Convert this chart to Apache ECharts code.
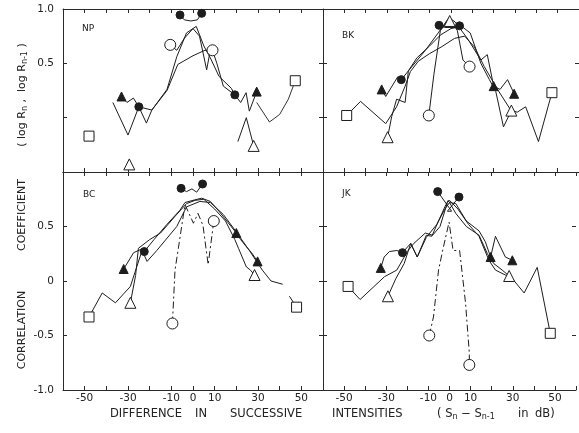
<!DOCTYPE html>
<html>
<head>
<meta charset="utf-8">
<script src="https://cdn.jsdelivr.net/npm/echarts@6/dist/echarts.min.js"></script>
<style>
  html, body { margin: 0; padding: 0; background: #fff; }
  #chart { width: 579px; height: 433px; }
</style>
</head>
<body>
<div id="chart"></div>
<script>
// ---- tick labels ----
const xTickLabels = [-50, -30, -10, 0, 10, 30, 50];
const upperYLabels = [1.0, 0.5];
const lowerYLabels = [0.5, 0, -0.5, -1.0];

// ---- NP ----  [dB difference, correlation]; null breaks a curve
const npTop = [[-6, 0.945], [-4, 0.90], [-1, 0.89], [2, 0.90], [4, 0.96]];
const npRing = [[-10.5, 0.67], [-7.5, 0.62], [-4, 0.73], [0, 0.82], [3, 0.75], [6.3, 0.44], [7.8, 0.60], [9, 0.62]];
const npLeftSolid = [[-33, 0.195], [-30.5, 0.14], [-27.5, 0.18], [-25, 0.10]];
const npRightSolid = [[19.3, 0.21], [22, 0.14], [24.5, 0.23], [26, 0.06], [29.4, 0.24]];
const npHollowTri = [[-29.4, -0.43], null, [20.7, -0.22], [24.6, 0.0], [28, -0.26]];
const npBox = [[-48, -0.17], [-45.5, -0.17], null, [29.4, 0.14], [35.3, -0.04], [40, 0.03], [44, 0.17], [47.2, 0.34]];
const npPlainA = [[-37, 0.14], [-30, -0.16], [-25, 0.10], [-21.5, -0.05], [-19, 0.07], [-12, 0.26], [-7.5, 0.56], [-3, 0.78], [1.5, 0.84], [5, 0.66], [8, 0.55], [12, 0.38], [17.7, 0.27], [19.3, 0.21]];
const npPlainB = [[-25, 0.10], [-19, 0.07], [-12, 0.25], [-7, 0.49], [0, 0.57], [5.5, 0.62], [9, 0.62], [11, 0.50], [14, 0.29], [19.3, 0.21]];

// ---- BK ----
const bkTop = [[-5.6, 0.85], [-3, 0.83], [0, 0.83], [2, 0.83], [4, 0.845]];
const bkPeakTri = [[-0.6, 0.89]];
const bkRing = [[-10.4, 0.02], [-8, 0.40], [-5, 0.80], [-2, 0.88], [1, 0.86], [3, 0.80], [5.6, 0.53], [8.7, 0.47]];
const bkLeftSolid = [[-32.5, 0.26], [-30.6, 0.195], [-25, 0.375], [-23.3, 0.35]];
const bkRightSolid = [[20, 0.29], [23, 0.26], [26.5, 0.35], [29.6, 0.22]];
const bkHollowTri = [[-29.7, -0.18], [-27.8, 0.01], [-25.5, 0.17], [-21.5, 0.14], [-20, 0.43], [-16, 0.55], [-10, 0.66], [-5, 0.76], [0, 0.82], [5, 0.84], [9, 0.78], [14, 0.50], [18, 0.35], [21, 0.24], [24.6, -0.085], [28.3, 0.065]];
const bkBox = [[-48.9, 0.02], [-42.4, 0.15], [-30.6, -0.055], [-25.5, 0.10], [-21.5, 0.29], [-19, 0.425], [-15.3, 0.52], [-10, 0.59], [-4.6, 0.65], [1.7, 0.73], [6.4, 0.75], [11, 0.65], [15.6, 0.47], [21.8, 0.26], [28, 0.07], [31, 0.05], [35, 0.10], [41, -0.22], [47.3, 0.23]];
const bkPlainA = [[-23.3, 0.35], [-20, 0.43], [-12, 0.62], [-6, 0.78], [-1, 0.92], [2, 0.88], [8, 0.72], [14, 0.53], [17, 0.58], [20, 0.29]];

// ---- BC ----
const bcTop = [[-5.5, 0.85], [-3, 0.82], [-0.5, 0.845], [1.7, 0.815], [4.4, 0.89]];
const bcRing = [[-9.5, -0.39], [-8.3, 0.10], [-3.7, 0.70], [0.2, 0.53], [2.3, 0.62], [4.6, 0.51], [7, 0.15], [9.6, 0.55]];
const bcLeftSolid = [[-32, 0.11], [-27.4, 0.26], [-24, 0.29], [-22.5, 0.27]];
const bcRightSolid = [[20, 0.44], [22, 0.38], [24.6, 0.315], [27, 0.26], [29.8, 0.18]];
const bcHollowTri = [[-28.9, -0.20], [-26.5, 0.05], [-25.2, 0.30], [-20, 0.38], [-15, 0.44], [-8, 0.60], [-3, 0.71], [1, 0.74], [5, 0.75], [10, 0.66], [15, 0.55], [19.3, 0.38], [21, 0.30], [24.6, 0.13], [26.5, 0.10], [28.4, 0.055]];
const bcBox = [[-48, -0.33], [-41.9, -0.11], [-35.8, -0.20], [-28.9, -0.05], [-23.5, 0.28], [-21.2, 0.18], [-16.7, 0.28], [-7.5, 0.50], [-3, 0.68], [3.2, 0.73], [8, 0.72], [14, 0.61], [20, 0.45], [26, 0.28], [32, 0.10], [36, 0.00], [41.4, -0.03], null, [44.5, -0.14], [47.8, -0.24]];
const bcPlainA = [[-22.5, 0.27], [-18, 0.38], [-12, 0.52], [-6, 0.65], [-3.7, 0.72], [0, 0.74], [4, 0.76], [8, 0.73], [12, 0.64], [16, 0.54], [20, 0.44]];

// ---- JK ----
const jkTop = [[-5.6, 0.82], [1, 0.64], [-1, 0.64], [4.5, 0.77]];
const jkRing = [[-9.6, -0.50], [-7.6, -0.33], [-5.2, 0.10], [-2.9, 0.31], [-0.2, 0.54], [1.7, 0.28], [4.8, 0.28], [7.6, -0.20], [9.4, -0.66], [9.4, -0.77]];
const jkLeftSolid = [[-32.6, 0.12], [-31, 0.22], [-28.5, 0.27], [-25, 0.28], [-22.3, 0.26]];
const jkRightSolid = [[19.5, 0.22], [21.8, 0.41], [26.5, 0.22], [29.8, 0.19]];
const jkHollowTri = [[-29.2, -0.14], [-25.5, 0.02], [-21.5, 0.16], [-18.4, 0.345], [-15.3, 0.22], [-11, 0.42], [-8.4, 0.41], [-5, 0.56], [-2.2, 0.68], [-0.6, 0.74], [3, 0.62], [8, 0.50], [14, 0.42], [18, 0.25], [21, 0.16], [25, 0.10], [28.3, 0.046]];
const jkBox = [[-48.1, -0.05], [-42.4, -0.17], [-30.8, 0.04], [-25, 0.10], [-20, 0.27], [-16.9, 0.345], [-11.5, 0.44], [-8, 0.42], [-4.5, 0.50], [-1, 0.72], [0, 0.74], [4, 0.66], [9, 0.52], [14, 0.41], [18.7, 0.19], [21.8, 0.10], [26.5, 0.055], [29, 0.04], [35.4, -0.11], [41.6, 0.125], [47.8, -0.48]];
const jkPlainA = [[-22.3, 0.26], [-18.4, 0.345], [-15.3, 0.22], [-11, 0.40], [-6, 0.52], [-2.2, 0.66], [0, 0.72], [3, 0.71], [8, 0.55], [14, 0.46], [17, 0.36], [19.5, 0.22]];

// ---- panel names ----
const panelNames = ['NP', 'BK', 'BC', 'JK'];

// ---- drawing ----
const INK = '#1d1d1d';
const FONT = 'DejaVu Sans';
const MARKS = {
  dot:       { symbol: 'circle',   size: 8,  fill: INK },
  ring:      { symbol: 'circle',   size: 11, fill: '#fff' },
  solidTri:  { symbol: 'triangle', size: 9,  fill: INK },
  hollowTri: { symbol: 'triangle', size: 11, fill: '#fff' },
  box:       { symbol: 'rect',     size: 10, fill: '#fff' }
};

const panels = [
  { curves: [
      { pts: npTop, start: 'dot', end: 'dot' },
      { pts: npRing, start: 'ring', end: 'ring' },
      { pts: npPlainA }, { pts: npPlainB },
      { pts: npLeftSolid, start: 'solidTri', end: 'dot' },
      { pts: npRightSolid, start: 'dot', end: 'solidTri' },
      { pts: npHollowTri, start: 'hollowTri', end: 'hollowTri' },
      { pts: npBox, start: 'box', end: 'box', thin: true }
  ] },
  { curves: [
      { pts: bkTop, start: 'dot', end: 'dot' },
      { pts: bkPeakTri, start: 'hollowTri' },
      { pts: bkRing, start: 'ring', end: 'ring' },
      { pts: bkPlainA },
      { pts: bkLeftSolid, start: 'solidTri', end: 'dot' },
      { pts: bkRightSolid, start: 'solidTri', end: 'solidTri' },
      { pts: bkHollowTri, start: 'hollowTri', end: 'hollowTri' },
      { pts: bkBox, start: 'box', end: 'box' }
  ] },
  { curves: [
      { pts: bcTop, start: 'dot', end: 'dot' },
      { pts: bcRing, start: 'ring', end: 'ring', dashed: true },
      { pts: bcPlainA },
      { pts: bcLeftSolid, start: 'solidTri', end: 'dot' },
      { pts: bcRightSolid, start: 'solidTri', end: 'solidTri' },
      { pts: bcHollowTri, start: 'hollowTri', end: 'hollowTri' },
      { pts: bcBox, start: 'box', end: 'box' }
  ] },
  { curves: [
      { pts: jkTop, start: 'dot', end: 'dot' },
      { pts: jkRing, start: 'ring', end: 'ring', dashed: true },
      { pts: jkPlainA },
      { pts: jkLeftSolid, start: 'solidTri', end: 'dot' },
      { pts: jkRightSolid, start: 'solidTri', end: 'solidTri' },
      { pts: jkHollowTri, start: 'hollowTri', end: 'hollowTri' },
      { pts: jkBox, start: 'box', end: 'box' }
  ] }
];

// grid geometry: columns [left, width], rows [top, height, yMin]
const cols = [[63, 260], [323, 259]];
const rows = [[9, 163, -0.5], [172, 218, -1.0]];

const grids = [], xAxes = [], yAxes = [], series = [];
const axisLineStyle = { color: '#2a2a2a', width: 1 };

function fmtY(v) { return v === 0 ? '0' : v.toFixed(1); }

panels.forEach((panel, gi) => {
  const col = cols[gi % 2], row = rows[Math.floor(gi / 2)];
  const isLeft = gi % 2 === 0, isLower = gi >= 2;
  grids.push({ left: col[0], width: col[1], top: row[0], height: row[1] });

  const xb = xAxes.length;
  xAxes.push({
    gridIndex: gi, type: 'value', position: 'bottom', min: -60, max: 60, interval: 10,
    axisLine: { show: true, onZero: false, lineStyle: axisLineStyle },
    axisTick: { show: true, inside: true, length: 4, lineStyle: axisLineStyle },
    axisLabel: {
      show: isLower, margin: 3, color: '#222', fontFamily: FONT, fontSize: 10.5,
      formatter: v => (xTickLabels.indexOf(v) >= 0 ? String(v) : '')
    },
    splitLine: { show: false }
  });
  xAxes.push({
    gridIndex: gi, type: 'value', position: 'top', min: -60, max: 60, interval: 10,
    axisLine: { show: true, onZero: false, lineStyle: axisLineStyle },
    axisTick: { show: true, inside: true, length: 4, lineStyle: axisLineStyle },
    axisLabel: { show: false }, splitLine: { show: false }
  });

  const yl = yAxes.length;
  const labelSet = isLower ? lowerYLabels : upperYLabels;
  yAxes.push({
    gridIndex: gi, type: 'value', position: 'left', min: row[2], max: 1.0, interval: 0.5,
    axisLine: { show: true, onZero: false, lineStyle: axisLineStyle },
    axisTick: { show: true, inside: true, length: 4, lineStyle: axisLineStyle },
    axisLabel: {
      show: isLeft, margin: 9, color: '#222', fontFamily: FONT, fontSize: 10.5,
      formatter: v => (labelSet.indexOf(v) >= 0 ? fmtY(v) : '')
    },
    splitLine: { show: false }
  });
  yAxes.push({
    gridIndex: gi, type: 'value', position: 'right', min: row[2], max: 1.0, interval: 0.5,
    axisLine: { show: false, onZero: false },
    axisTick: { show: true, inside: true, length: 4, lineStyle: axisLineStyle },
    axisLabel: { show: false }, splitLine: { show: false }
  });

  const ends = {};
  panel.curves.forEach(c => {
    // split on null into separate segments
    const segs = [[]];
    c.pts.forEach(p => { if (p === null) segs.push([]); else segs[segs.length - 1].push(p); });
    segs.forEach(seg => {
      if (seg.length < 2) return;
      series.push({
        type: 'line', xAxisIndex: xb, yAxisIndex: yl, data: seg,
        symbol: 'none', silent: true, animation: false, z: 2,
        lineStyle: { color: INK, width: c.thin ? 0.9 : 1, type: c.dashed ? [7, 3, 2, 3] : 'solid' }
      });
    });
    const flat = c.pts.filter(p => p !== null);
    if (c.start) (ends[c.start] = ends[c.start] || []).push(flat[0]);
    if (c.end) (ends[c.end] = ends[c.end] || []).push(flat[flat.length - 1]);
  });
  Object.keys(ends).forEach(k => {
    const m = MARKS[k];
    series.push({
      type: 'scatter', xAxisIndex: xb, yAxisIndex: yl, data: ends[k],
      symbol: m.symbol, symbolSize: m.size, silent: true, animation: false, z: 5,
      itemStyle: { color: m.fill, borderColor: INK, borderWidth: 1, opacity: 1 }
    });
  });
});

// titles and panel names
const txt = (text, x, y, size, extra) => Object.assign({
  type: 'text', x: x, y: y, silent: true,
  style: Object.assign({ text: text, fill: '#222', font: size + 'px "' + FONT + '"', align: 'left', verticalAlign: 'middle' }, extra || {})
});
const graphics = [
  txt(panelNames[0], 82, 29, 9),
  txt(panelNames[1], 342, 36, 9),
  txt(panelNames[2], 83, 195, 9),
  txt(panelNames[3], 342, 194, 9),
  txt('DIFFERENCE', 110, 414, 11.5),
  txt('IN', 195, 414, 11.5),
  txt('SUCCESSIVE', 230, 414, 11.5),
  txt('INTENSITIES', 332, 414, 11.5),
  txt('( S{s|n} − S{s|n-1}', 437, 414, 11.5, { rich: { s: { fontSize: 8, fontFamily: FONT, fill: '#222', padding: [6, 0, 0, 0] } } }),
  txt('in', 518, 414, 11.5),
  txt('dB)', 535, 414, 11.5),
  Object.assign(txt('CORRELATION', 22, 330, 11), { rotation: Math.PI / 2, style: { text: 'CORRELATION', fill: '#222', font: '11px "' + FONT + '"', align: 'center', verticalAlign: 'middle' } }),
  Object.assign(txt('COEFFICIENT', 22, 215, 11), { rotation: Math.PI / 2, style: { text: 'COEFFICIENT', fill: '#222', font: '11px "' + FONT + '"', align: 'center', verticalAlign: 'middle' } }),
  { type: 'text', x: 22, y: 95, rotation: Math.PI / 2, silent: true,
    style: { text: '( log R{s|n} ,  log R{s|n-1} )', fill: '#222', font: '11px "' + FONT + '"', align: 'center', verticalAlign: 'middle',
      rich: { s: { fontSize: 8, fontFamily: FONT, fill: '#222', padding: [6, 0, 0, 0] } } } }
];

const chart = echarts.init(document.getElementById('chart'), null, { renderer: 'canvas' });
chart.setOption({
  backgroundColor: '#fff',
  animation: false,
  grid: grids,
  xAxis: xAxes,
  yAxis: yAxes,
  series: series,
  graphic: graphics
});
</script>
</body>
</html>
